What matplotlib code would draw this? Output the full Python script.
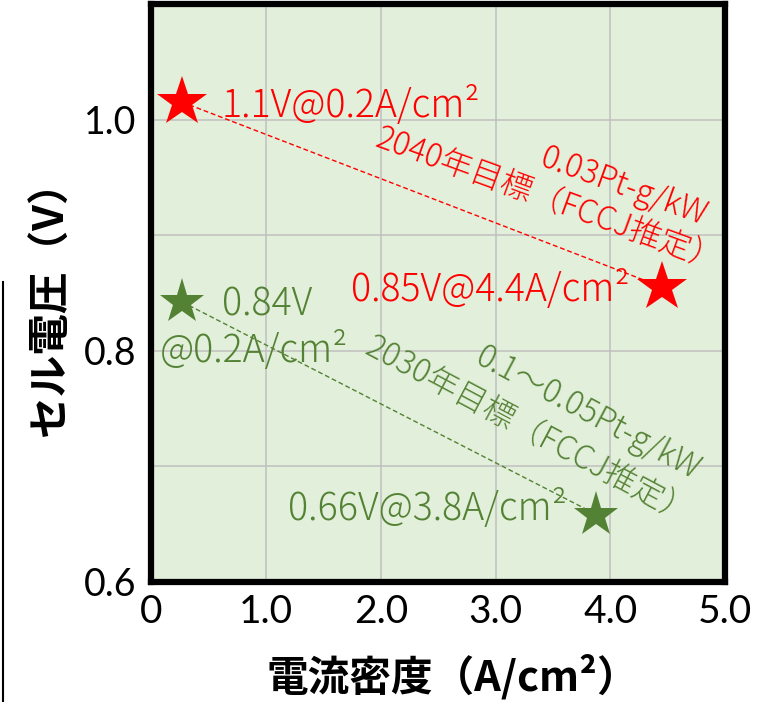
#FUEL CELL TARGETS ; CELL VOLTAGE vs CURRENT DENSITY
import numpy as np
import matplotlib
matplotlib.use("Agg")
import matplotlib.pyplot as plt
from matplotlib.lines import Line2D

plt.rcParams['font.family'] = ['Noto Sans CJK JP', 'DejaVu Sans']

#Data
red = '#ff0000'
green = '#548235'
x_2040 = [0.27, 4.45]
v_2040 = [1.015, 0.855]
x_2030 = [0.27, 3.88]
v_2030 = [0.842, 0.658]

x_ticks = [0, 1, 2, 3, 4, 5]
x_ticklabels = ['0', '1.0', '2.0', '3.0', '4.0', '5.0']
y_ticks = [0.6, 0.7, 0.8, 0.9, 1.0]
y_ticklabels = ['0.6', '', '0.8', '', '1.0']

W, H = 769, 702
fig = plt.figure(figsize=(W / 100, H / 100), dpi=100)
ax = fig.add_axes([151.3 / W, (H - 581.5) / H, (725 - 151.3) / W, (581.5 - 4) / H])
ax.set_facecolor('#e2efda')
ax.set_xlim(0, 5)
ax.set_ylim(0.6, 1.1)

ax.grid(True, color='#bfbfbf', linewidth=1.1)
ax.set_axisbelow(True)
for s in ax.spines.values():
    s.set_linewidth(4.5)
    s.set_color('black')

ax.set_xticks(x_ticks)
ax.set_xticklabels(x_ticklabels, fontfamily='Lato', fontsize=28)
ax.set_yticks(y_ticks)
ax.set_yticklabels(y_ticklabels, fontfamily='Lato', fontsize=27)
ax.tick_params(axis='both', length=0)
ax.tick_params(axis='x', pad=9)
ax.tick_params(axis='y', pad=11)

#dashed connector lines
ax.plot(x_2040, v_2040, color=red, lw=1, linestyle=(0, (3.5, 2)), zorder=3)
ax.plot(x_2030, v_2030, color=green, lw=1, linestyle=(0, (3.5, 2)), zorder=3)

#stars
ax.plot(x_2040, v_2040, linestyle='none', marker='*', markersize=38,
        color=red, markeredgewidth=0, zorder=4)
ax.plot(x_2030, v_2030, linestyle='none', marker='*', markersize=34,
        color=green, markeredgewidth=0, zorder=4)

#point labels
fs = 27
ax.text(0.616, 1.002, '1.1V@0.2A/cm²', color=red, fontsize=fs, fontweight='light',
        ha='left', va='baseline', zorder=5)
ax.text(4.17, 0.843, '0.85V@4.4A/cm²', color=red, fontsize=fs, fontweight='light',
        ha='right', va='baseline', zorder=5)
ax.text(0.616, 0.830, '0.84V', color=green, fontsize=fs, fontweight='light',
        ha='left', va='baseline', zorder=5)
ax.text(0.076, 0.790, '@0.2A/cm²', color=green, fontsize=fs, fontweight='light',
        ha='left', va='baseline', zorder=5)
ax.text(3.62, 0.653, '0.66V@3.8A/cm²', color=green, fontsize=fs, fontweight='light',
        ha='right', va='baseline', zorder=5)

#rotated target labels
rfs = 23
ax.text(3.46, 0.930, '2040年目標（FCCJ推定）', color=red, fontsize=rfs, fontweight='light',
        rotation=-20, rotation_mode='anchor', ha='center', va='center', zorder=5)
ax.text(4.11, 0.942, '0.03Pt-g/kW', color=red, fontsize=rfs, fontweight='light',
        rotation=-20, rotation_mode='anchor', ha='center', va='center', zorder=5)
ax.text(3.29, 0.730, '2030年目標（FCCJ推定）', color=green, fontsize=rfs, fontweight='light',
        rotation=-28, rotation_mode='anchor', ha='center', va='center', zorder=5)
ax.text(3.80, 0.746, '0.1～0.05Pt-g/kW', color=green, fontsize=rfs, fontweight='light',
        rotation=-28, rotation_mode='anchor', ha='center', va='center', zorder=5)

#axis labels
ax.set_xlabel('電流密度（A/cm²）', fontsize=30, fontweight='bold')
ax.xaxis.label.set_va('center')
ax.xaxis.set_label_coords((453 - 151.3) / 573.7, (581.5 - 677) / 577.5)
ax.set_ylabel('セル電圧（V）', fontsize=30, fontweight='bold')
ax.yaxis.label.set_va('center')
ax.yaxis.set_label_coords((51 - 151.3) / 573.7, (581.5 - 298) / 577.5)

#stray vertical rule at left edge
fig.add_artist(Line2D([3 / W, 3 / W], [0, 1 - 282 / H], color='black', lw=1.5,
                      transform=fig.transFigure))

fig.savefig('out.png', dpi=100)
